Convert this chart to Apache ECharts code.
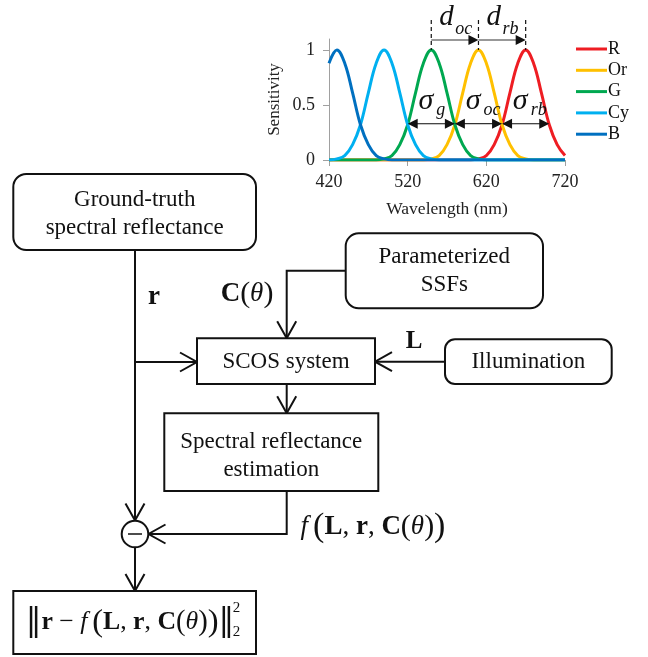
<!DOCTYPE html>
<html><head><meta charset="utf-8">
<script src="https://cdn.jsdelivr.net/npm/echarts@6/dist/echarts.min.js"></script>
<style>html,body{margin:0;padding:0;background:#fff}#c{width:648px;height:657px}</style>
</head><body><div id="c"></div>
<script>
// ---- data ----
const wavelengths = [420,430,440,450,460,470,480,490,500,510,520,530,540,550,560,570,580,590,600,610,620,630,640,650,660,670,680,690,700,710,720];
const sensR  = [0,0,0,0,0,0,0,0,0,0,0,0,0,0,0,0,0,0,0,0.01,0.04,0.14,0.32,0.61,0.88,1,0.88,0.61,0.32,0.14,0.04];
const sensOr = [0,0,0,0,0,0,0,0,0,0,0,0,0,0.01,0.04,0.14,0.32,0.61,0.88,1,0.88,0.61,0.32,0.14,0.04,0.01,0,0,0,0,0];
const sensG  = [0,0,0,0,0,0,0,0.01,0.04,0.14,0.32,0.61,0.88,1,0.88,0.61,0.32,0.14,0.04,0.01,0,0,0,0,0,0,0,0,0,0,0];
const sensCy = [0,0.01,0.04,0.14,0.32,0.61,0.88,1,0.88,0.61,0.32,0.14,0.04,0.01,0,0,0,0,0,0,0,0,0,0,0,0,0,0,0,0,0];
const sensB  = [0.88,1,0.88,0.61,0.32,0.14,0.04,0.01,0,0,0,0,0,0,0,0,0,0,0,0,0,0,0,0,0,0,0,0,0,0,0];
const seriesNames = ['R','Or','G','Cy','B'];
const xTicks = [420,520,620,720];
const yTicks = [0,0.5,1];
const peakMarks = [550,610,670];          // d_oc, d_rb anchors
const sigmaMarks = [520,580,640,700];     // sigma arrow ends
const sigmaLevel = 0.33;
const dLabels = [['d','oc'],['d','rb']];
const sigmaLabels = [['σ','g'],['σ','oc'],['σ','rb']];

const F = 'Liberation Serif';
const colors = ['#EE1D23','#FFC000','#00A850','#00B0F0','#0070C0'];
const allSens = [sensR, sensOr, sensG, sensCy, sensB];

const chart = echarts.init(document.getElementById('c'));
chart.setOption({
  animation: false,
  backgroundColor: '#fff',
  grid: {left: 329, right: 83, top: 39, bottom: 497, containLabel: false},
  legend: {
    data: seriesNames, orient: 'vertical', left: 571, top: 35,
    itemWidth: 31, itemHeight: 3, icon: 'rect', itemGap: 3.3,
    textStyle: {fontFamily: F, fontSize: 18, color: '#111', padding: [0,0,0,-4]}
  },
  xAxis: {
    type: 'value', min: 420, max: 720,
    axisLine: {show: true, lineStyle: {color: '#A0A0A0', width: 1}},
    axisTick: {show: true, length: 6, customValues: xTicks, lineStyle: {color: '#A0A0A0'}},
    axisLabel: {customValues: xTicks, fontFamily: F, fontSize: 18, color: '#222', margin: 13},
    splitLine: {show: false},
    name: 'Wavelength (nm)', nameLocation: 'middle', nameGap: 40,
    nameTextStyle: {fontFamily: F, fontSize: 17.5, color: '#222'}
  },
  yAxis: {
    type: 'value', min: 0, max: 1.1,
    axisLine: {show: true, lineStyle: {color: '#A0A0A0', width: 1}},
    axisTick: {show: true, length: 6, customValues: yTicks, lineStyle: {color: '#A0A0A0'}},
    axisLabel: {customValues: yTicks, fontFamily: F, fontSize: 18, color: '#222', margin: 14,
      formatter: v => String(v)},
    splitLine: {show: false},
    name: 'Sensitivity', nameLocation: 'middle', nameGap: 46,
    nameTextStyle: {fontFamily: F, fontSize: 17, color: '#222'}
  },
  series: seriesNames.map((n, i) => ({
    name: n, type: 'line', smooth: 0.4, showSymbol: false, symbol: 'none',
    color: colors[i],
    lineStyle: {color: colors[i], width: 3},
    data: wavelengths.map((w, k) => [w, allSens[i][k]]),
    z: 2 + i
  }))
});

// ---- graphic annotations ----
const G = [];
const K = '#111';
function poly(pts, extra) { G.push({type: 'polyline', shape: {points: pts}, style: Object.assign({stroke: K, lineWidth: 2, fill: null}, extra || {}), z: 10}); }
function rect(x, y, w, h, r) { G.push({type: 'rect', shape: {x, y, width: w, height: h, r: r || 0}, style: {fill: '#fff', stroke: K, lineWidth: 2}, z: 11}); }
function chev(x, y, dx, dy, len, hw) {
  len = len || 17; hw = hw || 9.5;
  const qx = -dy, qy = dx;
  poly([[x - dx*len + qx*hw, y - dy*len + qy*hw], [x, y], [x - dx*len - qx*hw, y - dy*len - qy*hw]]);
}
function head(x, y, dir) { // filled arrowhead, dir = +1 right, -1 left
  const L = 10, H = 5;
  G.push({type: 'polygon', shape: {points: [[x, y], [x - dir*L, y - H], [x - dir*L, y + H]]}, style: {fill: K}, z: 20});
}
function txt(t, x, y, opt) {
  G.push({type: 'text', z: 21, style: Object.assign({text: t, x, y, fill: K, fontFamily: F, fontSize: 23,
    align: 'center', verticalAlign: 'middle', textAlign: 'center', textVerticalAlign: 'middle'}, opt || {})});
}
const P = (x, y) => chart.convertToPixel({xAxisIndex: 0, yAxisIndex: 0}, [x, y]);

// d annotations
const peaks = peakMarks.map(p => P(p, 1));
const arrowY = peaks[0][1] - 10;
peaks.forEach(pt => {
  G.push({type: 'line', shape: {x1: pt[0], y1: pt[1] - 30, x2: pt[0], y2: pt[1]},
    style: {stroke: K, lineWidth: 1.2, lineDash: [4, 3]}, z: 19});
});
for (let i = 0; i < peaks.length - 1; i++) {
  const a = peaks[i][0], b = peaks[i+1][0];
  G.push({type: 'line', shape: {x1: a, y1: arrowY, x2: b - 8, y2: arrowY}, style: {stroke: '#333', lineWidth: 1.2}, z: 19});
  head(b, arrowY, 1);
  const mid = (a + b) / 2;
  txt(dLabels[i][0], mid - 1, arrowY - 23, {fontSize: 29, fontStyle: 'italic', align: 'right', textAlign: 'right'});
  txt(dLabels[i][1], mid + 0.5, arrowY - 11, {fontSize: 18, fontStyle: 'italic', align: 'left', textAlign: 'left'});
}
// sigma annotations
const sig = sigmaMarks.map(s => P(s, sigmaLevel));
for (let i = 0; i < sig.length - 1; i++) {
  const a = sig[i][0], b = sig[i+1][0], y = sig[i][1];
  G.push({type: 'line', shape: {x1: a + 8, y1: y, x2: b - 8, y2: y}, style: {stroke: '#333', lineWidth: 1.2}, z: 19});
  head(a, y, -1); head(b, y, 1);
  const mid = (a + b) / 2;
  txt(sigmaLabels[i][0], mid + 2, y - 23, {fontSize: 30, fontStyle: 'italic', align: 'right', textAlign: 'right'});
  txt(sigmaLabels[i][1], mid + 5, y - 13, {fontSize: 18, fontStyle: 'italic', align: 'left', textAlign: 'left'});
}

// ---- flowchart ----
// connectors
poly([[135, 250], [135, 520.5]]); chev(135, 520.5, 0, 1);
poly([[135, 362], [197, 362]]); chev(197, 362, 1, 0);
poly([[345.7, 270.7], [286.7, 270.7], [286.7, 338.3]]); chev(286.7, 338.3, 0, 1);
poly([[445, 361.7], [375, 361.7]]); chev(375, 361.7, -1, 0);
poly([[286.7, 384], [286.7, 413.3]]); chev(286.7, 413.3, 0, 1);
poly([[286.7, 491], [286.7, 534], [148.5, 534]]); chev(148.5, 534, -1, 0);
poly([[135, 547.5], [135, 591]]); chev(135, 591, 0, 1);
// boxes
rect(13.3, 174, 242.7, 76, 13);
rect(345.7, 233.3, 197.3, 75, 13);
rect(197, 338.3, 178, 45.7, 0);
rect(445, 339.3, 166.7, 44.7, 10);
rect(164.3, 413.3, 214, 77.7, 0);
rect(13.3, 591, 242.7, 63, 0);
G.push({type: 'circle', shape: {cx: 135, cy: 534, r: 13.3}, style: {fill: '#fff', stroke: K, lineWidth: 2}, z: 11});
G.push({type: 'line', shape: {x1: 128, y1: 534, x2: 142, y2: 534}, style: {stroke: K, lineWidth: 1.5}, z: 12});
// box texts
txt('Ground-truth', 134.7, 200);
txt('spectral reflectance', 134.7, 228);
txt('Parameterized', 444.3, 257);
txt('SSFs', 444.3, 285);
txt('SCOS system', 286, 362);
txt('Illumination', 528.3, 362);
txt('Spectral reflectance', 271.3, 442);
txt('estimation', 271.3, 470);

function mkRich(s) {
  return {
    i: {fontStyle: 'italic', fontSize: 27*s, fontFamily: F, fill: K},
    t: {fontStyle: 'italic', fontSize: 27*s, fontFamily: F, fill: K},
    b: {fontWeight: 'bold', fontSize: 27*s, fontFamily: F, fill: K},
    n: {fontSize: 27*s, fontFamily: F, fill: K},
    P: {fontSize: 34*s, fontFamily: F, fill: K},
    Q: {fontSize: 34*s, fontFamily: F, fill: K, padding: [0, 0, 0, 5*s]},
    p: {fontSize: 30*s, fontFamily: F, fill: K},
    B: {fontSize: 33*s, fontFamily: 'DejaVu Serif', fill: K}
  };
}
const rich = mkRich(1);
const rich2 = mkRich(0.955);
const cTheta = '{b|C}{p|(}{t|θ}{p|)}';
const fExpr = '{i|f}{Q|(}{b|L}{n|, }{b|r}{n|, }' + cTheta + '{P|)}';
// labels
txt('r', 154, 297, {fontSize: 27, fontWeight: 'bold'});
txt(cTheta, 247, 294, {rich});
txt('L', 414, 342, {fontSize: 25, fontWeight: 'bold'});
txt(fExpr, 373, 527, {rich});
txt('{B|‖}{b|r}{n| − }' + fExpr + '{B|‖}', 130, 622, {rich: rich2});
txt('2', 236.5, 608, {fontSize: 15});
txt('2', 236.5, 632, {fontSize: 15});

chart.setOption({graphic: G});
</script></body></html>
